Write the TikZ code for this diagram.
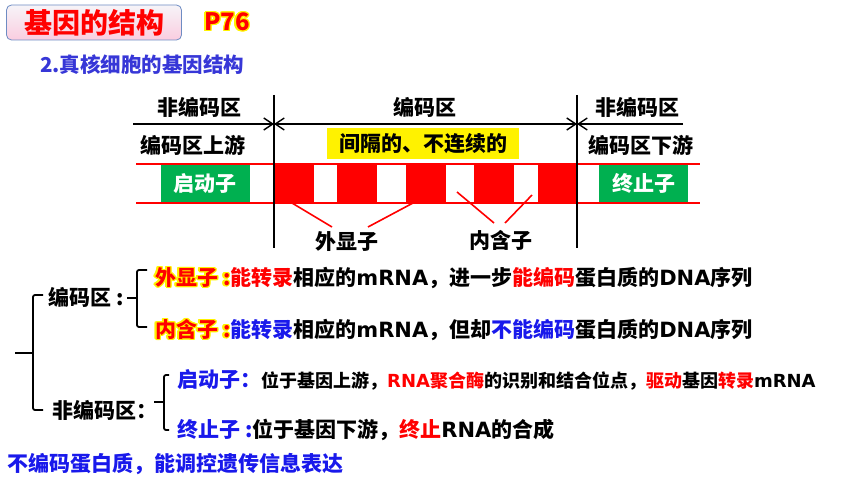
\documentclass[tikz,border=0pt]{standalone}
\usepackage{fontspec}
\setmainfont{Noto Sans CJK SC}
\newfontfamily\latinfont{DejaVu Sans}
\newcommand{\latn}[1]{{\latinfont #1}}
\usepackage{contour}
\contourlength{1.4pt}
\usetikzlibrary{arrows.meta,positioning}
\definecolor{pptgreen}{RGB}{0,176,80}
\definecolor{subblue}{RGB}{55,55,215}
\definecolor{textblue}{RGB}{25,25,235}
\definecolor{boxline}{RGB}{110,140,195}
\tikzset{
    titlebox/.style={
           rounded corners=5pt,
           draw=boxline, thick,
           top color={rgb,255:red,246;green,244;blue,248},
           bottom color={rgb,255:red,250;green,205;blue,224},
           minimum width=175pt,
           minimum height=35pt,
           text=red,
           font=\bfseries\fontsize{28}{28}\selectfont
           },
    pagenum/.style={
           inner sep=0pt, text=red,
           font=\bfseries\fontsize{24}{24}\selectfont
           },
    subtitle/.style={
           inner sep=0pt, text=subblue,
           font=\bfseries\fontsize{20.5}{20.5}\selectfont
           },
    head/.style={
           inner sep=0pt,
           font=\bfseries\fontsize{21}{21}\selectfont
           },
    genebox/.style={
           fill=pptgreen, text=white,
           minimum width=89pt, minimum height=37pt,
           inner sep=0pt,
           font=\bfseries\fontsize{21}{21}\selectfont
           },
    exon/.style={
           fill=red, inner sep=0pt,
           minimum width=40pt, minimum height=39pt
           },
    desc/.style={
           inner sep=0pt, anchor=west,
           font=\bfseries\fontsize{21}{21}\selectfont
           },
    dimline/.style={line width=1.4pt},
    strand/.style={red, line width=2pt},
    pointer/.style={red, line width=1.6pt},
    brace/.style={line width=1.8pt, rounded corners=2pt}
}

\begin{document}
\begin{tikzpicture}[x=1pt, y=-1pt, >={Straight Barb[length=9pt,width=12pt]}]
   \useasboundingbox (0,0) rectangle (860,484);

   % title
   \node[titlebox] (title) at (94,22.5) {基因的结构};
   \node[pagenum, right=22pt of title] (page) {\contour{yellow}{P76}};
   \node[subtitle, anchor=west] (sub) at (40,65) {2.真核细胞的基因结构};

   % region heads
   \node[head] (nc1) at (199,107) {非编码区};
   \node[head] (cod) at (425,107) {编码区};
   \node[head] (nc2) at (637,107) {非编码区};
   \node[head] (up) at (193,145) {编码区上游};
   \node[head, fill=yellow, minimum width=192pt, minimum height=31pt] (gap) at (423,143.5) {间隔的、不连续的};
   \node[head] (down) at (641,145) {编码区下游};

   \coordinate (vl1) at (274,95);  \coordinate (vl2) at (274,248);
   \coordinate (vr1) at (577,95);  \coordinate (vr2) at (577,248);
   \coordinate (al) at (133,124);  \coordinate (am1) at (274,124);
   \coordinate (am2) at (577,124); \coordinate (ar) at (683,124);

   % DNA strand
   \coordinate (s1) at (136,164); \coordinate (s2) at (700,164);
   \coordinate (s3) at (136,203); \coordinate (s4) at (700,203);
   \draw[strand] (s1) -- (s2);
   \draw[strand] (s3) -- (s4);
   \foreach \x [count=\i] in {274,337,406,474,538}
       \node[exon, anchor=north west] (ex\i) at (\x,164) {};
   \node[genebox] (prom) at (205,183.5) {启动子};
   \node[genebox] (term) at (643.5,183.5) {终止子};

   \path[dimline]
    (vl1) edge (vl2)
    (vr1) edge (vr2)
    (al) edge[->] (am1)
    (am1) edge[<->] (am2)
    (ar) edge[->] (am2)
       ;

   % labels under the strand
   \node[head] (exlab) at (347,242) {外显子};
   \node[head] (inlab) at (501,240) {内含子};
   \coordinate (p1) at (292,203); \coordinate (q1) at (332,227);
   \coordinate (p2) at (413,203); \coordinate (q2) at (368,227);
   \coordinate (p3) at (457,192); \coordinate (q3) at (494,223);
   \coordinate (p4) at (532,195); \coordinate (q4) at (505,223);
   \path[pointer]
    (p1) edge (q1)
    (p2) edge (q2)
    (p3) edge (q3)
    (p4) edge (q4)
       ;

   % summary
   \draw[brace] (43,295) -- (33,295) -- (33,410) -- (43,410);
   \draw[brace] (15,353) -- (33,353);
   \node[desc] (codreg) at (48,297) {编码区 :};
   \draw[brace] (147,270) -- (137,270) -- (137,327) -- (147,327);
   \draw[brace] (127,298) -- (137,298);
   \node[desc] (exline) at (155,278) {\textcolor{red}{\contour{yellow}{外显子 :}能转录}相应的\latn{mRNA}，进一步\textcolor{red}{能编码}蛋白质的\latn{DNA}序列};
   \node[desc] (inline) at (155,330) {\textcolor{red}{\contour{yellow}{内含子 :}}\textcolor{textblue}{能转录}相应的\latn{mRNA}，但却\textcolor{textblue}{不能编码}蛋白质的\latn{DNA}序列};

   \node[desc] (ncreg) at (52,410) {非编码区：};
   \draw[brace] (169,375) -- (164,375) -- (164,430) -- (169,430);
   \draw[brace] (154,402) -- (164,402);
   \node[desc] (promline) at (177,380) {\textcolor{textblue}{启动子：}{\fontsize{18}{18}\selectfont 位于基因上游，\textcolor{red}{\latn{RNA}聚合酶}的识别和结合位点，\textcolor{red}{驱动}基因\textcolor{red}{转录}\latn{mRNA}}};
   \node[desc] (termline) at (177,430) {\textcolor{textblue}{终止子 :}位于基因下游，\textcolor{red}{终止}\latn{RNA}的合成};
   \node[desc, text=textblue] (note) at (7,464) {不编码蛋白质，能调控遗传信息表达};
\end{tikzpicture}
\end{document}
